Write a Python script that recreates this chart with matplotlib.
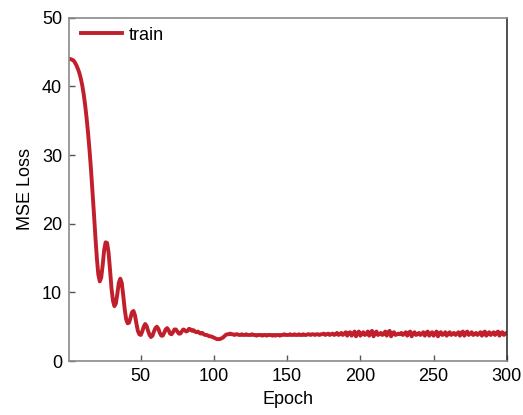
import matplotlib

matplotlib.use("Agg")
import matplotlib.pyplot as plt
import numpy as np

plt.rcParams["font.family"] = ["Liberation Sans", "DejaVu Sans"]

# training MSE loss, one value per epoch (1..300)
loss = [
    44.0, 44.0, 43.9, 43.8, 43.5, 43.1, 42.6, 42.0, 41.2, 40.2,
    38.9, 37.3, 35.4, 33.2, 30.7, 27.9, 24.8, 21.5, 18.1, 15.0,
    12.6, 11.6, 12.2, 14.0, 16.2, 17.3, 17.2, 15.8, 13.3, 10.6,
    8.8, 8.0, 8.4, 9.8, 11.4, 12.0, 11.4, 9.6, 7.6, 6.1,
    5.5, 5.6, 6.3, 7.1, 7.3, 6.7, 5.5, 4.4, 3.9, 3.8,
    4.3, 5.0, 5.4, 5.1, 4.4, 3.8, 3.5, 3.7, 4.3, 4.8,
    5.0, 4.7, 4.1, 3.7, 3.7, 4.1, 4.6, 4.8, 4.5, 4.0,
    3.9, 4.2, 4.6, 4.6, 4.3, 4.0, 4.0, 4.3, 4.6, 4.5,
    4.3, 4.4, 4.7, 4.6, 4.4, 4.5, 4.3, 4.2, 4.3, 4.1,
    4.0, 4.1, 3.9, 3.8, 3.8, 3.7, 3.6, 3.6, 3.5, 3.4,
    3.3, 3.2, 3.2, 3.2, 3.3, 3.4, 3.6, 3.8, 3.9, 3.9,
    4.0, 3.9, 3.9, 3.8, 3.9, 3.9, 3.8, 3.8, 3.9, 3.8,
    3.8, 3.9, 3.8, 3.8, 3.8, 3.9, 3.8, 3.8, 3.7, 3.8,
    3.8, 3.8, 3.7, 3.8, 3.8, 3.7, 3.8, 3.8, 3.8, 3.7,
    3.8, 3.7, 3.8, 3.8, 3.7, 3.8, 3.8, 3.9, 3.8, 3.8,
    3.8, 3.9, 3.8, 3.8, 3.9, 3.8, 3.8, 3.9, 3.8, 3.8,
    3.9, 3.8, 3.8, 3.9, 3.9, 3.8, 3.9, 3.9, 3.8, 3.9,
    3.9, 3.8, 3.9, 3.9, 4.0, 3.8, 3.9, 4.0, 3.8, 3.9,
    4.0, 3.8, 3.9, 4.1, 3.8, 3.9, 4.1, 3.8, 4.0, 4.2,
    3.7, 4.1, 4.2, 3.7, 4.0, 4.3, 3.6, 4.1, 4.3, 3.7,
    4.0, 4.2, 3.8, 3.9, 4.3, 3.7, 4.2, 4.4, 3.6, 4.1,
    4.3, 3.8, 3.9, 4.1, 3.8, 4.0, 4.3, 3.7, 4.2, 4.4,
    3.6, 4.1, 4.2, 3.8, 3.9, 4.0, 3.9, 4.1, 3.8, 4.0,
    4.2, 3.7, 4.1, 4.3, 3.6, 4.0, 4.2, 3.8, 3.9, 4.1,
    3.8, 4.0, 4.2, 3.7, 4.1, 4.3, 3.7, 4.0, 4.2, 3.7,
    4.0, 4.3, 3.6, 4.1, 4.2, 3.8, 3.9, 4.2, 3.7, 4.0,
    4.2, 3.8, 4.0, 4.1, 3.8, 4.0, 4.2, 3.7, 4.1, 4.3,
    3.7, 4.1, 4.3, 3.8, 4.0, 4.2, 3.8, 3.9, 4.1, 3.8,
    4.0, 4.2, 3.7, 4.1, 4.3, 3.7, 4.0, 4.2, 3.8, 4.0,
    4.2, 3.8, 4.1, 4.3, 3.7, 4.1, 4.2, 3.8, 4.0, 4.1,
]
epochs = np.arange(1, len(loss) + 1)

x_ticks = [50, 100, 150, 200, 250, 300]
y_ticks = [0, 10, 20, 30, 40, 50]

fig = plt.figure(figsize=(5.23, 4.15), dpi=100)
ax = fig.add_axes([0.132, 0.130, 0.837, 0.827])

ax.plot(epochs, loss, color="#C01F2B", lw=2.8, label="train")

ax.set_xlim(1, 300)
ax.set_ylim(0, 50)
ax.set_xticks(x_ticks)
ax.set_yticks(y_ticks)
ax.tick_params(direction="in", length=4.5, width=1, color="#555555",
               labelsize=13, pad=5, top=False, right=False)
for side in ("left", "bottom", "top"):
    ax.spines[side].set_color("#8a8a8a")
ax.spines["right"].set_color("#333333")
for s in ax.spines.values():
    s.set_linewidth(1.2)

ax.set_xlabel("Epoch", fontsize=13, labelpad=4)
ax.set_ylabel("MSE Loss", fontsize=13, labelpad=6)

ax.legend(loc="upper left", frameon=False, fontsize=13, handlelength=2.3,
          handletextpad=0.35, borderaxespad=0.0, bbox_to_anchor=(0.01, 0.995))

fig.savefig("out.png", dpi=100)
